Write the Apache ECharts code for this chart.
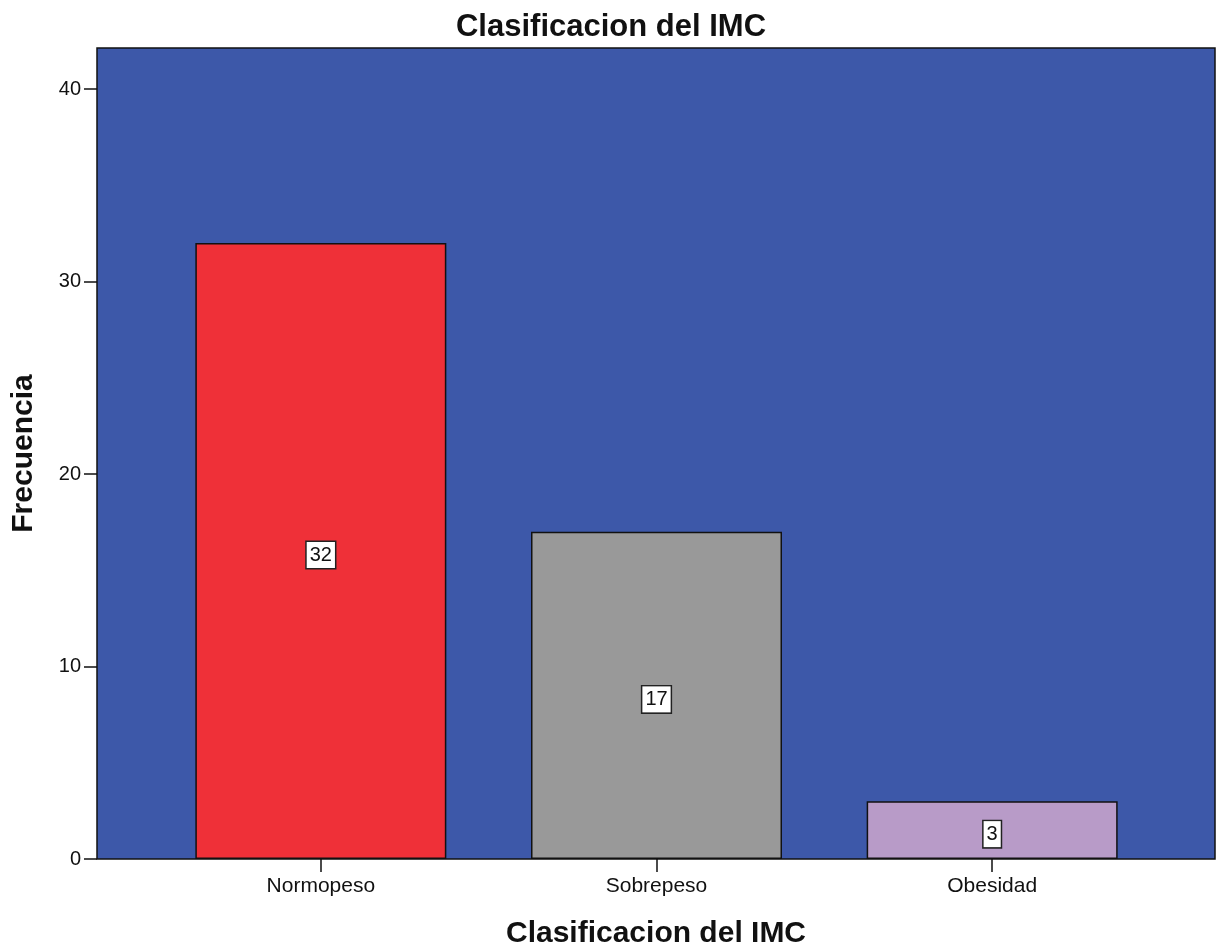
<!DOCTYPE html>
<html>
<head>
<meta charset="utf-8">
<script src="https://cdn.jsdelivr.net/npm/echarts@6/dist/echarts.min.js"></script>
<style>html,body{margin:0;padding:0;background:#fff}#c{width:1222px;height:948px}</style>
</head>
<body>
<div id="c"></div>
<script>
const categories = ['Normopeso', 'Sobrepeso', 'Obesidad'];
const values = [32, 17, 3];
const barColors = ['#ef3038', '#999999', '#b89bc8'];
const yTicks = [0, 10, 20, 30, 40];

const chart = echarts.init(document.getElementById('c'), null, {renderer: 'canvas'});
const font = 'Arial, "Liberation Sans", sans-serif';
const yMax = 42.13;
chart.setOption({
  animation: false,
  title: {
    text: 'Clasificacion del IMC', left: 'center', top: 7,
    textStyle: {fontFamily: font, fontSize: 31, fontWeight: 'bold', color: '#111'}
  },
  grid: [
    {left: 97, right: 7, top: 48, bottom: 89, show: true, backgroundColor: '#3d58a9', borderColor: '#111', borderWidth: 1.5,
     outerBoundsMode: 'none', containLabel: false},
    {left: 153, right: 62, top: 48, bottom: 89, outerBoundsMode: 'none', containLabel: false}
  ],
  xAxis: [
    {type: 'category', gridIndex: 0, data: [''], axisLine: {show: false}, axisTick: {show: false}, axisLabel: {show: false},
     name: 'Clasificacion del IMC', nameLocation: 'middle', nameGap: 60,
     nameTextStyle: {fontFamily: font, fontSize: 30, fontWeight: 'bold', color: '#111'}},
    {type: 'category', gridIndex: 1, data: categories, axisLine: {show: false},
     axisTick: {show: true, alignWithLabel: true, length: 13, lineStyle: {color: '#111', width: 1.5}},
     axisLabel: {fontFamily: font, fontSize: 21, color: '#111', margin: 17}}
  ],
  yAxis: [
    {type: 'value', gridIndex: 0, min: 0, max: yMax, interval: 10,
     axisLine: {show: false}, splitLine: {show: false},
     axisTick: {show: true, length: 13, customValues: yTicks, lineStyle: {color: '#111', width: 1.5}},
     axisLabel: {fontFamily: font, fontSize: 20, color: '#111', margin: 16, customValues: yTicks},
     name: 'Frecuencia', nameLocation: 'middle', nameGap: 58, nameRotate: 90,
     nameTextStyle: {fontFamily: font, fontSize: 30, fontWeight: 'bold', color: '#111'}},
    {type: 'value', gridIndex: 1, min: 0, max: yMax, show: false}
  ],
  series: [{
    type: 'bar', xAxisIndex: 1, yAxisIndex: 1,
    barWidth: 251,
    data: values.map((v, i) => ({value: v, itemStyle: {color: barColors[i]}})),
    itemStyle: {borderColor: '#111', borderWidth: 1.5},
    label: {
      show: true, position: 'inside', fontFamily: font, fontSize: 20, color: '#111',
      backgroundColor: '#fff', borderColor: '#222', borderWidth: 1.5, padding: [4, 3, 2, 3], offset: [0, 4]
    }
  }]
});
</script>
</body>
</html>
